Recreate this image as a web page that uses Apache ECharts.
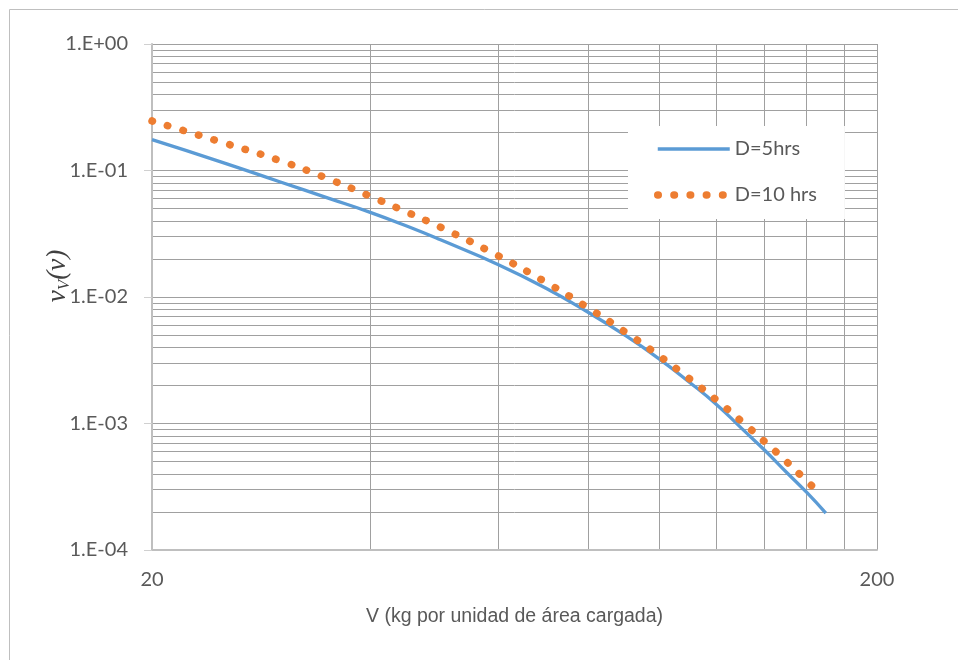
<!DOCTYPE html>
<html>
<head>
<meta charset="utf-8">
<title>D=5hrs / D=10 hrs</title>
<script src="https://cdn.jsdelivr.net/npm/echarts@6.0.0/dist/echarts.min.js"></script>
<style>
  html, body { margin: 0; padding: 0; background: #fff; }
  #chart { width: 958px; height: 660px; }
</style>
</head>
<body>
<div id="chart"></div>
<script>
  // V (kg por unidad de área cargada) and nu_V(nu)
  var xValues5 = [20, 25, 30, 35, 40, 45, 50, 60, 70, 80, 90, 100, 110, 120, 130, 140, 150, 160, 170];
  var d5Values = [0.1752, 0.1160, 0.0815, 0.0605, 0.0467, 0.0362, 0.0283, 0.0181, 0.01168, 0.00754,
                  0.00495, 0.00326, 0.00214, 0.001421, 0.000919, 0.000614, 0.000412, 0.000285, 0.000196];

  var xValues10 = [20, 25, 30, 35, 40, 45, 50, 60, 70, 80, 90, 100, 110, 120, 130, 140, 150, 160, 165];
  var d10Values = [0.2464, 0.1668, 0.1199, 0.0860, 0.0625, 0.0467, 0.0356, 0.02124, 0.01300, 0.00817,
                   0.00526, 0.003447, 0.002278, 0.001539, 0.001042, 0.000718, 0.000500, 0.000351, 0.000297];

  var seriesNames = ['D=5hrs', 'D=10 hrs'];
  var xTickLabels = [20, 200];
  var xGridValues = [20, 40, 60, 80, 100, 120, 140, 160, 180, 200];
  var yTickLabels = [1e-4, 1e-3, 1e-2, 1e-1, 1];

  // minor grid 2..9 inside every decade
  var yGridValues = [];
  for (var i = 0; i < yTickLabels.length - 1; i++) {
    for (var k = 1; k <= 9; k++) yGridValues.push(k * yTickLabels[i]);
  }
  yGridValues.push(yTickLabels[yTickLabels.length - 1]);

  function pairs(xs, ys) {
    var out = [];
    for (var i = 0; i < xs.length; i++) out.push([xs[i], ys[i]]);
    return out;
  }

  function sciLabel(v) {
    var e = Math.round(Math.log10(v));
    var m = Math.round(v / Math.pow(10, e));
    return m + '.E' + (e < 0 ? '-' : '+') + String(Math.abs(e)).padStart(2, '0');
  }

  var gridColor = '#a0a0a0';
  var textColor = '#595959';

  var chart = echarts.init(document.getElementById('chart'));

  var option = {
    animation: false,
    backgroundColor: '#fff',
    grid: {
      left: 152, top: 44, right: 81, bottom: 110,
      containLabel: false,
      outerBoundsMode: 'none'
    },
    legend: {
      orient: 'vertical',
      left: 628, top: 126,
      backgroundColor: '#fff',
      padding: [13, 28, 14, 26],
      itemWidth: 72, itemHeight: 14, itemGap: 26,
      itemStyle: { opacity: 0 },
      lineStyle: { width: 'inherit' },
      textStyle: { fontFamily: 'Lato', fontSize: 20, color: textColor, lineHeight: 20 },
      data: seriesNames
    },
    xAxis: {
      type: 'log', logBase: 10, min: 20, max: 200,
      name: 'V (kg por unidad de área cargada)',
      nameLocation: 'middle', nameGap: 57,
      nameTextStyle: { fontFamily: 'Liberation Sans', fontSize: 19.5, color: textColor },
      axisLine: { show: true, lineStyle: { color: '#bfbfbf', width: 2 } },
      axisTick: { show: false, customValues: xGridValues },
      axisLabel: {
        customValues: xTickLabels, margin: 20,
        fontFamily: 'Lato', fontSize: 20, color: textColor
      },
      splitLine: { show: true, lineStyle: { color: gridColor, width: 1 } },
      minorTick: { show: false }, minorSplitLine: { show: false }
    },
    yAxis: [
      {
        type: 'log', logBase: 10, min: 1e-4, max: 1,
        axisLine: { show: true, lineStyle: { color: '#bfbfbf', width: 2 } },
        axisTick: { show: false, customValues: yGridValues },
        axisLabel: {
          customValues: yTickLabels, margin: 24,
          fontFamily: 'Lato', fontSize: 20, color: textColor,
          formatter: sciLabel
        },
        splitLine: { show: true, lineStyle: { color: gridColor, width: 1 } }
      },
      {
        // only the short tick marks at each decade
        type: 'log', logBase: 10, min: 1e-4, max: 1, position: 'left',
        axisLine: { show: false },
        axisTick: { show: true, customValues: yTickLabels, length: 8, lineStyle: { color: '#d0d0d0', width: 1 } },
        axisLabel: { show: false },
        splitLine: { show: false }
      }
    ],
    series: [
      {
        name: seriesNames[0],
        type: 'line',
        data: pairs(xValues5, d5Values),
        smooth: true,
        symbol: 'none',
        color: '#5b9bd5',
        lineStyle: { color: '#5b9bd5', width: 3.3 },
        z: 3
      },
      {
        name: seriesNames[1],
        type: 'line',
        data: pairs(xValues10, d10Values),
        smooth: true,
        symbol: 'none',
        color: '#ed7d31',
        lineStyle: { color: '#ed7d31', width: 7.5, type: [0.5, 15.7], cap: 'round' },
        z: 4
      }
    ],
    graphic: [
      {
        type: 'rect', silent: true, z: -10,
        shape: { x: 9.5, y: 9.5, width: 1000, height: 1000 },
        style: { fill: 'none', stroke: '#bfbfbf', lineWidth: 1 }
      },
      {
        type: 'text', x: 58, y: 276, rotation: Math.PI / 2,
        style: {
          text: '{n|ν}{s|V}{n|(ν)}',
          align: 'center', verticalAlign: 'middle',
          fill: '#404040',
          rich: {
            n: { fontFamily: 'Liberation Serif', fontStyle: 'italic', fontSize: 27, lineHeight: 30, fill: '#404040' },
            s: { fontFamily: 'Liberation Serif', fontStyle: 'italic', fontSize: 17, lineHeight: 30, verticalAlign: 'bottom', fill: '#404040' }
          }
        }
      }
    ]
  };

  chart.setOption(option);
</script>
</body>
</html>
